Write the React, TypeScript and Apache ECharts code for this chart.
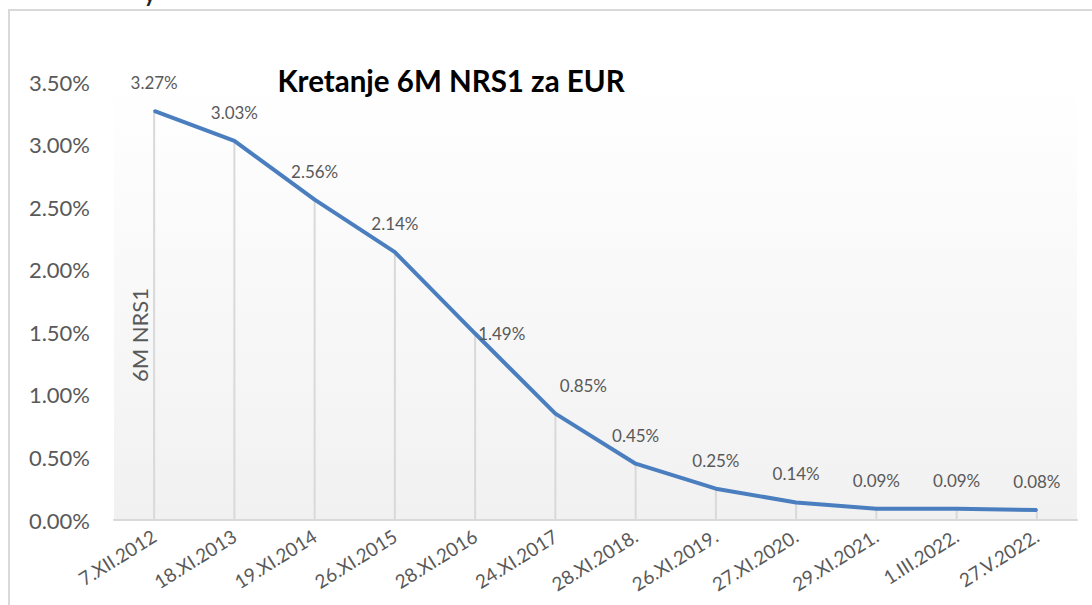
import React, { useEffect, useRef } from "react";
import * as echarts from "echarts";

const categories = [
  "7.XII.2012",
  "18.XI.2013",
  "19.XI.2014",
  "26.XI.2015",
  "28.XI.2016",
  "24.XI.2017",
  "28.XI.2018.",
  "26.XI.2019.",
  "27.XI.2020.",
  "29.XI.2021.",
  "1.III.2022.",
  "27.V.2022.",
];
const values = [3.27, 3.03, 2.56, 2.14, 1.49, 0.85, 0.45, 0.25, 0.14, 0.09, 0.09, 0.08];
const titleText = "Kretanje 6M NRS1 za EUR";
const axisName = "6M NRS1";

const FONT = "Lato, 'Open Sans', sans-serif";
const GRAY = "#595959";
const LINE = "#4a7ebf";

export default function App() {
  const ref = useRef<HTMLDivElement>(null);
  useEffect(() => {
    if (!ref.current) return;
    const chart = echarts.init(ref.current, null, { renderer: "svg" });
    const lineData = values.map((v, i) => {
      if (i === 4) {
        return { value: v, label: { position: "right", distance: 2 } };
      }
      if (i === 5) {
        return { value: v, label: { position: "top", offset: [28, 0] } };
      }
      return { value: v };
    });
    chart.setOption({
      animation: false,
      backgroundColor: "#ffffff",
      textStyle: { fontFamily: FONT },
      grid: {
        left: 114,
        right: 15,
        top: 82,
        bottom: 85,
        show: true,
        borderWidth: 0,
        backgroundColor: {
          type: "linear",
          x: 0,
          y: 0,
          x2: 0,
          y2: 1,
          colorStops: [
            { offset: 0, color: "#ffffff" },
            { offset: 1, color: "#f1f1f1" },
          ],
        },
      },
      graphic: [
        {
          type: "rect",
          shape: { x: 9, y: 10, width: 1200, height: 700 },
          style: { fill: "none", stroke: "#d9d9d9", lineWidth: 2 },
          silent: true,
        },
        {
          type: "text",
          x: 144,
          y: -18,
          style: { text: "y", font: `bold 22px ${FONT}`, fill: "#222" },
        },
        {
          type: "text",
          x: 451,
          y: 80,
          style: {
            text: titleText,
            font: `bold 29.5px ${FONT}`,
            fill: "#000000",
            textAlign: "center",
            textVerticalAlign: "middle",
          },
        },
        {
          type: "text",
          x: 139,
          y: 335,
          rotation: Math.PI / 2,
          style: {
            text: axisName,
            font: `22px ${FONT}`,
            fill: GRAY,
            textAlign: "center",
            textVerticalAlign: "middle",
          },
        },
      ],
      xAxis: {
        type: "category",
        data: categories,
        boundaryGap: true,
        axisLine: { show: true, lineStyle: { color: "#d9d9d9", width: 2 } },
        axisTick: { show: false },
        splitLine: { show: false },
        axisLabel: {
          rotate: 32,
          interval: 0,
          margin: 14,
          fontSize: 19,
          color: GRAY,
          fontFamily: FONT,
        },
      },
      yAxis: {
        type: "value",
        min: 0,
        max: 3.5,
        interval: 0.5,
        axisLine: { show: false },
        axisTick: { show: false },
        splitLine: { show: false },
        axisLabel: {
          margin: 24,
          fontSize: 22,
          color: GRAY,
          fontFamily: FONT,
          formatter: (v: number) => v.toFixed(2) + "%",
        },
      },
      series: [
        {
          type: "bar",
          data: values,
          barWidth: 2,
          itemStyle: { color: "#d9d9d9" },
          silent: true,
          z: 1,
        },
        {
          type: "line",
          data: lineData,
          symbol: "circle",
          symbolSize: 2,
          showSymbol: true,
          lineStyle: { color: LINE, width: 4 },
          itemStyle: { color: LINE },
          z: 3,
          label: {
            show: true,
            position: "top",
            distance: 19,
            fontSize: 17,
            color: GRAY,
            fontFamily: FONT,
            formatter: (p: any) => Number(p.value).toFixed(2) + "%",
          },
        },
      ],
    });
    return () => chart.dispose();
  }, []);
  return (
    <div
      ref={ref}
      style={{ position: "fixed", left: 0, top: 0, width: 1092, height: 605 }}
    />
  );
}
